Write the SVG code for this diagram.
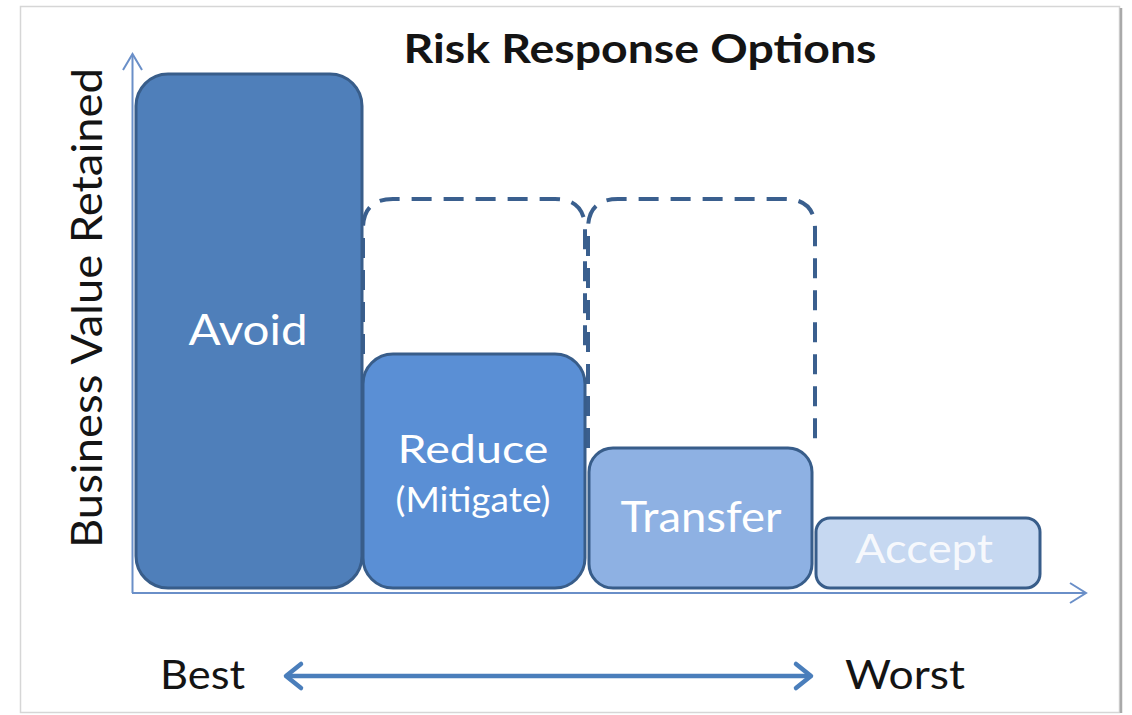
<svg xmlns="http://www.w3.org/2000/svg" width="1132" height="715" viewBox="0 0 1132 715">
  <style>
    .t { font-family: Lato, "Open Sans", "Liberation Sans", sans-serif; }
    .dark { fill: #141414; }
    .lbl { fill: #ffffff; text-anchor: middle; }
    .box { stroke: #385d8a; stroke-width: 3; }
    .dash { fill: none; stroke: #3a5f8e; stroke-width: 4; stroke-dasharray: 20 12; }
    .axis { fill: none; stroke: #6a8fc8; stroke-width: 2; }
    .range { fill: none; stroke: #4a7ebb; stroke-width: 4.5; stroke-linecap: round; stroke-linejoin: round; }
  </style>
  <rect x="0" y="0" width="1132" height="715" fill="#ffffff"/>
  <g id="frame">
    <rect x="20.5" y="6.5" width="1099" height="706" fill="#ffffff" stroke="#d6d6d6" stroke-width="1.5"/>
    <line x1="1121" y1="8" x2="1121" y2="713" stroke="#a9a9a9" stroke-width="2.5"/>
  </g>
  <g id="title">
    <text class="t dark" x="640" y="63" font-size="40" font-weight="bold" text-anchor="middle" textLength="473" lengthAdjust="spacingAndGlyphs">Risk Response Options</text>
  </g>
  <g id="y-label">
    <text class="t dark" transform="translate(102,308) rotate(-90)" x="0" y="0" font-size="43" text-anchor="middle" textLength="480" lengthAdjust="spacingAndGlyphs">Business Value Retained</text>
  </g>
  <g id="connectors">
    <path class="axis" d="M132.5,593 V55"/>
    <path class="axis" d="M123,70 L132.5,54 L142,70"/>
    <path class="axis" d="M132,593 H1086"/>
    <path class="axis" d="M1070,583 L1086,593 L1070,603"/>
    <path class="range" d="M288,676 H809"/>
    <path class="range" d="M301,664 L286,676 L301,688"/>
    <path class="range" d="M796,664 L811,676 L796,688"/>
  </g>
  <g id="reduce-potential">
    <path class="dash" d="M363,354 V229 Q363,199 393,199 H555 Q585,199 585,229 V354"/>
  </g>
  <g id="transfer-potential">
    <path class="dash" d="M588,448 V229 Q588,199 618,199 H785 Q815,199 815,229 V448"/>
  </g>
  <g id="avoid">
    <rect class="box" x="136" y="74" width="226" height="514" rx="32" fill="#4f7fba"/>
    <text class="t lbl" x="248" y="345" font-size="42" textLength="119" lengthAdjust="spacingAndGlyphs">Avoid</text>
  </g>
  <g id="reduce">
    <rect class="box" x="363" y="354" width="222" height="234" rx="30" fill="#5a8fd5"/>
    <text class="t lbl" x="473" y="463" font-size="38" textLength="151" lengthAdjust="spacingAndGlyphs">Reduce</text>
    <text class="t lbl" x="473" y="512" font-size="34" textLength="155" lengthAdjust="spacingAndGlyphs">(Mitigate)</text>
  </g>
  <g id="transfer">
    <rect class="box" x="589" y="448" width="223" height="140" rx="24" fill="#8eb1e3"/>
    <text class="t lbl" x="701" y="532" font-size="42" textLength="161" lengthAdjust="spacingAndGlyphs">Transfer</text>
  </g>
  <g id="accept">
    <rect class="box" x="816" y="518" width="224" height="70" rx="14" fill="#c6d8f1"/>
    <text class="t lbl" x="924" y="563" font-size="40" textLength="138" fill-opacity="0.85" lengthAdjust="spacingAndGlyphs">Accept</text>
  </g>
  <g id="best">
    <text class="t dark" x="160" y="689" font-size="40" textLength="85" lengthAdjust="spacingAndGlyphs">Best</text>
  </g>
  <g id="worst">
    <text class="t dark" x="845" y="689" font-size="40" textLength="120" lengthAdjust="spacingAndGlyphs">Worst</text>
  </g>
</svg>
